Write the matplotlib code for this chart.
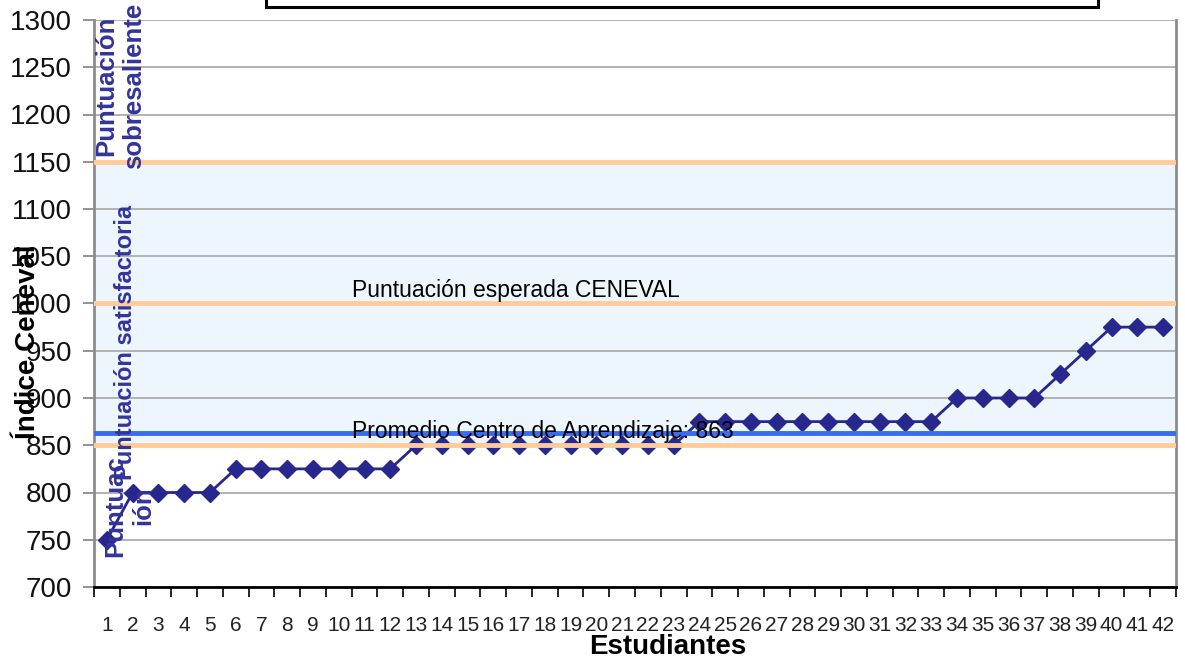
import matplotlib
matplotlib.use("Agg")
import matplotlib.pyplot as plt
from matplotlib.patches import Rectangle
import numpy as np

plt.rcParams['font.family'] = ['Liberation Sans', 'DejaVu Sans']

students = list(range(1, 43))
scores = [750, 800, 800, 800, 800, 825, 825, 825, 825, 825, 825, 825,
          850, 850, 850, 850, 850, 850, 850, 850, 850, 850, 850,
          875, 875, 875, 875, 875, 875, 875, 875, 875, 875,
          900, 900, 900, 900, 925, 950, 975, 975, 975]
y_ticks = list(range(700, 1301, 50))
band_low, band_mid, band_high = 850, 1000, 1150
average = 863

W, H = 1185, 662
fig = plt.figure(figsize=(W / 100, H / 100), dpi=100)
L, R, T, B = 94, 1176, 20, 587
ax = fig.add_axes([L / W, (H - B) / H, (R - L) / W, (B - T) / H])

ax.set_xlim(0.5, 42.5)
ax.set_ylim(700, 1300)

ax.axhspan(band_low, band_high, color='#EEF6FD', zorder=0)
ax.set_yticks(y_ticks)
ax.grid(axis='y', color='#A6A6A6', linewidth=1.2, zorder=1)
ax.set_axisbelow(True)

ax.plot(students, scores, color='#27278E', linewidth=2, marker='D',
        markersize=9, zorder=3)

for v in (band_low, band_mid, band_high):
    ax.axhline(v, color='#FFCC99', linewidth=3.5, zorder=4)
ax.axhline(average, color='#3A6BF0', linewidth=3.5, zorder=4)

ax.text(10.5, 1002, 'Puntuación esperada CENEVAL', fontsize=16.5,
        color='black', ha='left', va='bottom', zorder=6)
ax.text(10.5, 852, 'Promedio Centro de Aprendizaje: 863', fontsize=16.5,
        color='black', ha='left', va='bottom', zorder=6)

blue = '#333399'
fig.text(120 / W, 1 - 86 / H, 'Puntuación\nsobresaliente', rotation=90,
         fontsize=18.5, fontweight='bold', color=blue, ha='center',
         va='center', multialignment='center', linespacing=1.2, zorder=7)
fig.text(125 / W, 1 - 342 / H, 'Puntuación satisfactoria', rotation=90,
         fontsize=17, fontweight='bold', color=blue, ha='center',
         va='center', zorder=7)
fig.text(129 / W, 1 - 506 / H, 'Puntuac\nión', rotation=90,
         fontsize=18.5, fontweight='bold', color=blue, ha='center',
         va='center', multialignment='center', linespacing=1.2, zorder=7)

# x ticks
ax.set_xticks(students)
ax.set_xticklabels([str(s) for s in students], fontsize=15, color='#222222')
ax.set_xticks(np.arange(0.5, 43, 1), minor=True)
ax.tick_params(axis='x', which='major', length=0, pad=21)
ax.tick_params(axis='x', which='minor', length=7, width=1.2, color='black',
               direction='out')
ax.tick_params(axis='y', which='major', length=8, width=1.2, color='#808080',
               labelsize=20, pad=8, labelcolor='#111111')

for side in ('left', 'right', 'top'):
    ax.spines[side].set_color('#8C8C8C')
    ax.spines[side].set_linewidth(2)
ax.spines['top'].set_visible(False)
ax.spines['bottom'].set_color('black')
ax.spines['bottom'].set_linewidth(2)

fig.text(668 / W, 1 - 647 / H, 'Estudiantes', fontsize=20, fontweight='bold',
         ha='center', va='center')
fig.text(28 / W, 1 - 342 / H, 'Índice Ceneval', rotation=90, fontsize=20,
         fontweight='bold', ha='center', va='center', zorder=8)

# title box (empty)
fig.add_artist(Rectangle((266 / W, 1 - 7 / H), (1098 - 266) / W, 20 / H,
                         transform=fig.transFigure, facecolor='white',
                         edgecolor='black', linewidth=2.2, clip_on=False))

fig.savefig('out.png', dpi=100)
